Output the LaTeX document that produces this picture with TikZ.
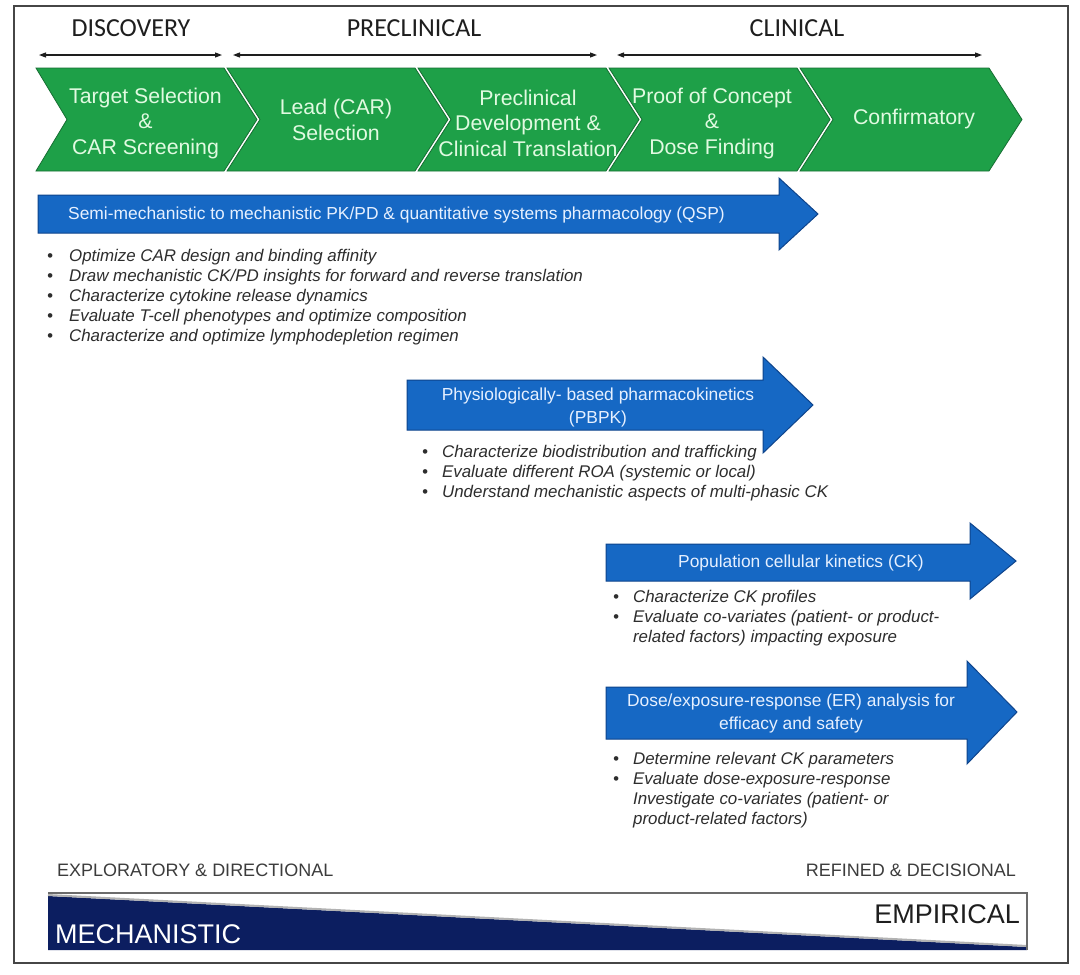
\documentclass[tikz,border=0pt]{standalone}
\usepackage{fontspec}
\setmainfont{Liberation Sans}
\newfontfamily\calib{Carlito}
\usetikzlibrary{arrows.meta}
\definecolor{chgreen}{RGB}{30,160,72}
\definecolor{chdark}{RGB}{22,110,50}
\definecolor{chtxt}{RGB}{225,250,225}
\definecolor{bfill}{RGB}{22,104,196}
\definecolor{bdark}{RGB}{14,68,140}
\definecolor{btxt}{RGB}{230,240,255}
\definecolor{navy}{RGB}{12,30,96}
\definecolor{bulc}{RGB}{45,45,45}
\definecolor{framec}{RGB}{70,70,70}
\definecolor{hdc}{RGB}{30,30,30}
\definecolor{subc}{RGB}{60,60,60}
\newcommand\blt{\textbullet}
\begin{document}
\begin{tikzpicture}[x=1pt,y=-1pt,
  phase/.style={font=\calib\fontsize{26}{30}\selectfont, text=hdc, inner sep=0pt},
  phasearrow/.style={{Triangle[length=7pt,width=5pt]}-{Triangle[length=7pt,width=5pt]}, line width=1.1pt, draw=hdc},
  chev/.style={fill=chgreen, draw=chdark, line width=0.8pt, line join=miter},
  chtext/.style={font=\fontsize{21.3}{25.5}\selectfont, text=chtxt, align=center, inner sep=0pt},
  barrow/.style={fill=bfill, draw=bdark, line width=1pt, line join=miter},
  btext/.style={font=\fontsize{17.4}{23}\selectfont, text=btxt, align=center, inner sep=0pt},
  blist/.style={font=\fontsize{16.9}{20}\selectfont\itshape, text=bulc, anchor=north west, inner sep=0pt, align=left},
  sub/.style={font=\fontsize{18}{20}\selectfont, text=subc, inner sep=0pt}
]
\useasboundingbox (0,0) rectangle (1080,975);
\fill[white] (0,0) rectangle (1080,975);
\draw[framec, line width=1.5pt] (14,6) rectangle (1068,963);

% phase headers
\node[phase] (hd) at (131,28) {DISCOVERY};
\node[phase] (hp) at (414,28) {PRECLINICAL};
\node[phase] (hc) at (797,28) {CLINICAL};
\coordinate (d1) at (39,55); \coordinate (d2) at (222,55);
\coordinate (p1) at (233,55); \coordinate (p2) at (597,55);
\coordinate (k1) at (617,55); \coordinate (k2) at (982,55);
\draw[phasearrow] (d1) -- (d2);
\draw[phasearrow] (p1) -- (p2);
\draw[phasearrow] (k1) -- (k2);

% chevrons
\draw[chev] (36,68) -- (224,68) -- (257,119.5) -- (224,171) -- (36,171) -- (67,119.5) -- cycle;
\draw[chev] (227,68) -- (415,68) -- (448,119.5) -- (415,171) -- (227,171) -- (260,119.5) -- cycle;
\draw[chev] (418,68) -- (606,68) -- (639,119.5) -- (606,171) -- (418,171) -- (451,119.5) -- cycle;
\draw[chev] (609,68) -- (797,68) -- (830,119.5) -- (797,171) -- (609,171) -- (642,119.5) -- cycle;
\draw[chev] (800,68) -- (989,68) -- (1022,119.5) -- (989,171) -- (800,171) -- (833,119.5) -- cycle;
\node[chtext] (c1) at (145.5,123) {Target Selection\\\&\\CAR Screening};
\node[chtext] (c2) at (336,120) {Lead (CAR)\\Selection};
\node[chtext] (c3) at (528,123) {Preclinical\\Development \&\\Clinical Translation};
\node[chtext] (c4) at (712,123) {Proof of Concept\\\&\\Dose Finding};
\node[chtext] (c5) at (914,119) {Confirmatory};

% QSP arrow
\draw[barrow] (38,195) -- (779,195) -- (779,178) -- (818,214) -- (779,250) -- (779,233) -- (38,233) -- cycle;
\node[btext, anchor=west] (qsp) at (68,215) {Semi-mechanistic to mechanistic PK/PD \& quantitative systems pharmacology (QSP)};
\node[blist] (qspl) at (47,247) {\begin{tabular}{@{}l@{\hspace{16pt}}l@{}}
\blt & Optimize CAR design and binding affinity\\
\blt & Draw mechanistic CK/PD insights for forward and reverse translation\\
\blt & Characterize cytokine release dynamics\\
\blt & Evaluate T-cell phenotypes and optimize composition\\
\blt & Characterize and optimize lymphodepletion regimen
\end{tabular}};

% PBPK arrow
\draw[barrow] (407,380) -- (763,380) -- (763,357) -- (813,405) -- (763,453) -- (763,430) -- (407,430) -- cycle;
\node[btext] (pbpk) at (598,407) {Physiologically- based pharmacokinetics\\(PBPK)};
\node[blist] (pbpkl) at (422,443) {\begin{tabular}{@{}l@{\hspace{14pt}}l@{}}
\blt & Characterize biodistribution and trafficking\\
\blt & Evaluate different ROA (systemic or local)\\
\blt & Understand mechanistic aspects of multi-phasic CK
\end{tabular}};

% CK arrow
\draw[barrow] (606,544) -- (970,544) -- (970,523) -- (1016,561) -- (970,599) -- (970,581) -- (606,581) -- cycle;
\node[btext] (ck) at (801,563) {Population cellular kinetics (CK)};
\node[blist] (ckl) at (613,588) {\begin{tabular}{@{}l@{\hspace{14pt}}l@{}}
\blt & Characterize CK profiles\\
\blt & Evaluate co-variates (patient- or product-\\
 & related factors) impacting exposure
\end{tabular}};

% ER arrow
\draw[barrow] (606,687) -- (967,687) -- (967,661) -- (1017,712) -- (967,764) -- (967,739) -- (606,739) -- cycle;
\node[btext] (er) at (791,713) {Dose/exposure-response (ER) analysis for\\efficacy and safety};
\node[blist] (erl) at (613,750) {\begin{tabular}{@{}l@{\hspace{14pt}}l@{}}
\blt & Determine relevant CK parameters\\
\blt & Evaluate dose-exposure-response\\
 & Investigate co-variates (patient- or\\
 & product-related factors)
\end{tabular}};

% bottom scale
\node[sub, anchor=west] (expl) at (57,870) {EXPLORATORY \& DIRECTIONAL};
\node[sub, anchor=east] (refd) at (1016,870) {REFINED \& DECISIONAL};
\fill[navy] (48,896) -- (1027,947) -- (1027,950) -- (48,950) -- cycle;
\draw[gray!60, line width=2pt] (48,895) -- (1027,946);
\draw[framec!80, line width=1.5pt] (48,893) -- (1027,893) -- (1027,950);
\node[font=\fontsize{27}{30}\selectfont, text=white, anchor=base west, inner sep=0pt] (mech) at (55,943) {MECHANISTIC};
\node[font=\fontsize{27}{30}\selectfont, text=hdc, anchor=base east, inner sep=0pt] (emp) at (1020,923) {EMPIRICAL};
\end{tikzpicture}
\end{document}
